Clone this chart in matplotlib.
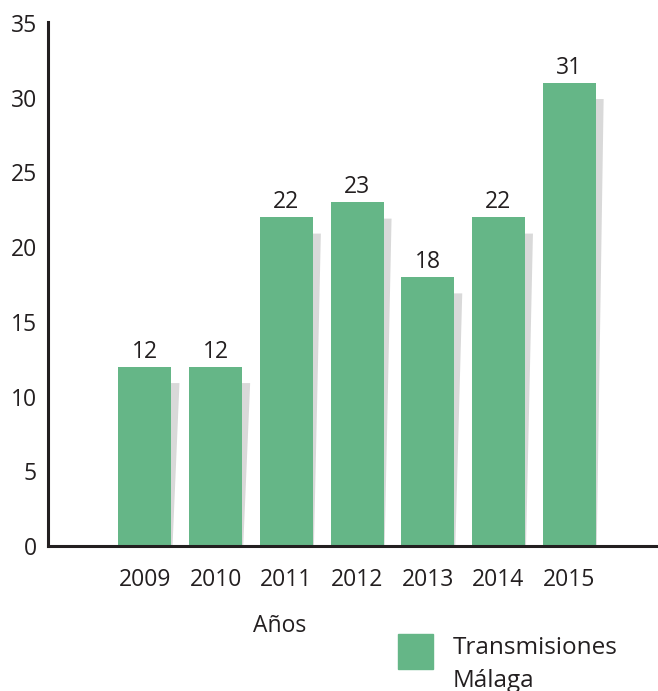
import numpy as np
import matplotlib.pyplot as plt
from matplotlib.patches import Patch, Rectangle
from matplotlib.legend_handler import HandlerPatch

plt.rcParams['font.family'] = ['Open Sans', 'DejaVu Sans']

# datos
years = ['2009', '2010', '2011', '2012', '2013', '2014', '2015']
values = [12, 12, 22, 23, 18, 22, 31]
series_name = 'Transmisiones\nMálaga'

green = '#65b687'
shadow = '#d9d9d9'
ink = '#231f20'

fig = plt.figure(figsize=(6.58, 6.91), dpi=100, facecolor='white')
ax = fig.add_axes([0.0729, 0.2098, 0.927, 0.7583])

x = np.arange(len(years))
w = 0.75

# sombra gris inclinada detrás de cada barra
for xi, v in zip(x, values):
    r = xi + w / 2
    top = v - 1.1
    ax.fill([r - 0.02, r + 0.113, r + 0.015, r - 0.02], [top, top, 0, 0],
            color=shadow, lw=0, zorder=1)

bars = ax.bar(x, values, width=w, color=green, zorder=2)

for xi, v in zip(x, values):
    ax.annotate(str(v), (xi, v), xytext=(0, 2), textcoords='offset points',
                ha='center', va='bottom', fontsize=16.5, color=ink)

ax.set_xlim(-1.372, 7.256)
ax.set_ylim(0, 35.05)
ax.set_yticks(range(0, 36, 5))
ax.set_xticks(x)
ax.set_xticklabels(years)
ax.tick_params(axis='both', length=0, labelsize=16.5, labelcolor=ink)
ax.tick_params(axis='y', pad=8)
ax.tick_params(axis='x', pad=16)

for s in ['top', 'right']:
    ax.spines[s].set_visible(False)
for s in ['left', 'bottom']:
    ax.spines[s].set_color(ink)
    ax.spines[s].set_linewidth(2.2)

ax.set_xlabel('Años', fontsize=16.5, color=ink)
ax.xaxis.set_label_coords(0.38, -0.13)


# cuadrado de la leyenda, subido hacia la primera línea
def legend_square(legend, orig_handle, xdescent, ydescent, width, height, fontsize):
    s = 25.2
    return Rectangle((-xdescent, -ydescent + height / 2 - s / 2 + 10), s, s)


leg = fig.legend(handles=[Patch(color=green)], labels=[series_name],
                 loc='upper left', bbox_to_anchor=(0.605, 0.079), frameon=False,
                 fontsize=17.5, handlelength=1.44, handleheight=1.44,
                 handletextpad=0.8, labelcolor=ink, borderpad=0, borderaxespad=0,
                 handler_map={Patch: HandlerPatch(patch_func=legend_square)})
for t in leg.get_texts():
    t.set_linespacing(1.45)

plt.savefig('out.png', dpi=100, facecolor='white')
